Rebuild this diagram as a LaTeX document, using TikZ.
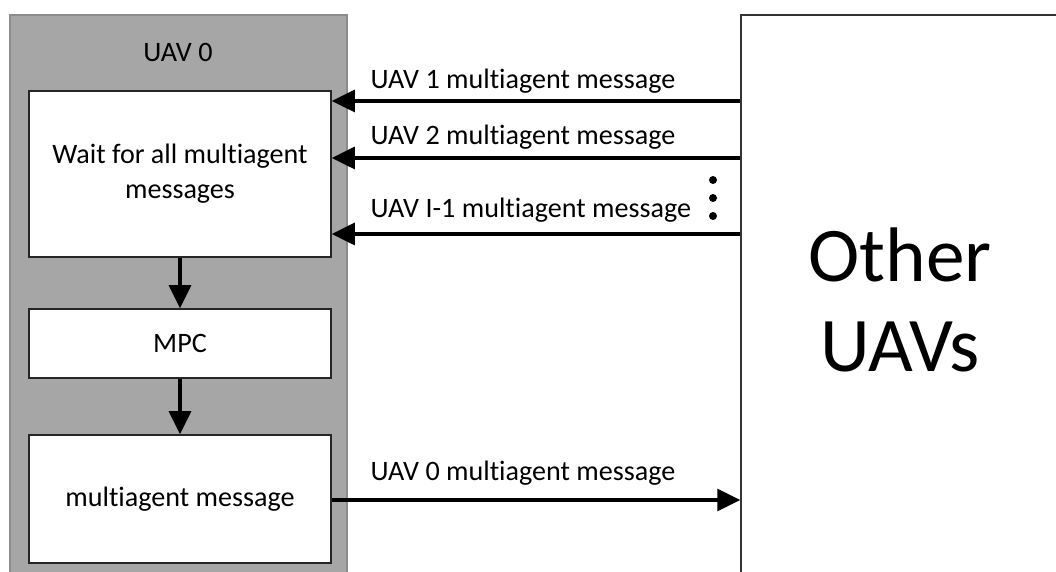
\documentclass[tikz,border=0pt]{standalone}
\usepackage{fontspec}
\setmainfont{Carlito}[Ligatures=NoCommon]
\usetikzlibrary{arrows.meta,positioning,calc}

\begin{document}
\begin{tikzpicture}[
    panel/.style={rectangle, draw=black!45, fill=black!35, line width=0.8pt, minimum width=8.425cm, minimum height=14.3cm},
    blk/.style={rectangle, draw=black!85, fill=white, line width=1.2pt, minimum width=7.55cm, align=center, font=\fontsize{20}{25}\selectfont},
    msg/.style={-{Triangle[length=0.575cm,width=0.55cm]}, line width=2.2pt},
    lbl/.style={font=\fontsize{20}{24}\selectfont, inner sep=1pt, anchor=south west}
]
\useasboundingbox (0,0) rectangle (26.4,-14.3);
\clip (0,0) rectangle (26.4,-14.3);
% UAV 0 side
\node[panel] (uav0) at (4.4625,-7.525) {};
\node[font=\fontsize{20}{24}\selectfont] (title) at (4.45,-1.3) {UAV 0};
\node[blk, minimum height=4.15cm] (wait) at (4.5,-4.35) {Wait for all multiagent\\messages};
\node[blk, minimum height=1.725cm] (mpc) at (4.5,-8.5875) {MPC};
\node[blk, minimum height=3.2cm] (send) at (4.5,-12.475) {multiagent message};
\draw[msg] (wait) -- (mpc);
\draw[msg] (mpc) -- (send);
% other UAVs
\node[rectangle, draw=black!80, line width=1pt, minimum width=7.95cm, minimum height=14.25cm,
      align=center, font=\fontsize{55}{64}\selectfont] (other) at (22.5,-7.5) {Other\\UAVs};
\coordinate (in1) at (0,-2.525);
\coordinate (in2) at (0,-3.95);
\coordinate (in3) at (0,-5.85);
\coordinate (out0) at (0,-12.5);
\draw[msg] (other.west |- in1) -- node[lbl, pos=0.912, yshift=3pt]{UAV 1 multiagent message} (wait.east |- in1);
\draw[msg] (other.west |- in2) -- node[lbl, pos=0.912, yshift=4pt]{UAV 2 multiagent message} (wait.east |- in2);
\draw[msg] (other.west |- in3) -- node[lbl, pos=0.912, yshift=6pt]{UAV I-1 multiagent message} (wait.east |- in3);
\draw[msg] (send.east |- out0) -- node[lbl, pos=0.088, yshift=8pt]{UAV 0 multiagent message} (other.west |- out0);
% vertical dots
\foreach \y in {-4.5,-4.95,-5.4}
    \fill (17.825,\y) circle (0.1);
\end{tikzpicture}
\end{document}
